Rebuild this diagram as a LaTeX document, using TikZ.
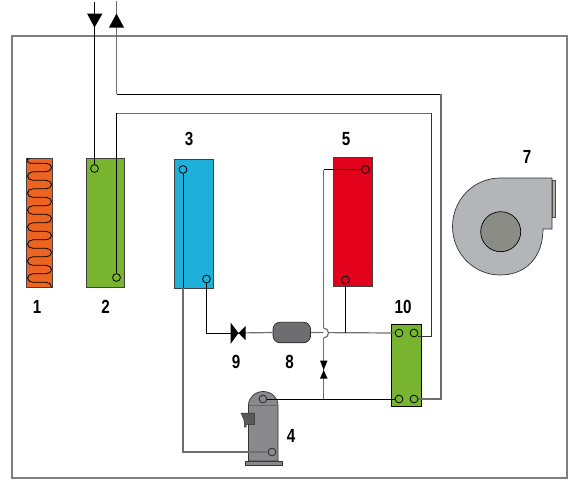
\documentclass[tikz,border=0pt]{standalone}
\usepackage{fontspec}
\setmainfont[FakeStretch=0.8]{Liberation Sans}
\definecolor{coilc}{HTML}{EC6420}
\definecolor{greenc}{HTML}{78B430}
\definecolor{bluec}{HTML}{1FB0DA}
\definecolor{redc}{HTML}{E2001A}
\definecolor{pipeg}{HTML}{6E6E6E}
\definecolor{frameg}{HTML}{7F7F7F}
\definecolor{fang}{HTML}{B4B5B8}
\definecolor{hubg}{HTML}{8C8C86}
\definecolor{compg}{HTML}{8A8A8D}
\definecolor{tankg}{HTML}{6E6E70}
\tikzset{
  x=1pt,y=-1pt,
  panel/.style={draw=black!75,line width=0.9pt,minimum width=#1,inner sep=0pt,outer sep=0pt,anchor=north west},
  port/.style={circle,draw=black,line width=0.8pt,minimum size=7.8pt,inner sep=0pt},
  black pipe/.style={draw=black,line width=0.9pt},
  gray pipe/.style={draw=pipeg,line width=1.2pt},
  num/.style={font=\bfseries\fontsize{19}{19}\selectfont,inner sep=0pt},
  tip/.style={fill=black,draw=none}
}
\begin{document}
\begin{tikzpicture}
\useasboundingbox (0,0) rectangle (572,479);
\draw[frameg,line width=1.2pt] (12,36) rectangle (567,478);

% panels
\node[panel=25.5pt,minimum height=129pt,fill=coilc] (coil) at (26.5,158) {};
\node[panel=38.5pt,minimum height=128.5pt,fill=greenc] (b2) at (86,158.5) {};
\node[panel=38.5pt,minimum height=128.5pt,fill=bluec] (b3) at (174.5,159.5) {};
\node[panel=38.5pt,minimum height=128.5pt,fill=redc] (b5) at (333.5,157.5) {};
\node[panel=30pt,minimum height=82.5pt,fill=greenc,draw=black] (b10) at (391.5,324) {};

% coil serpentine
\draw[black,line width=0.8pt,line join=round]
  (27,160.5) .. controls (27,162.5) and (29,163.3) .. (33,163.3)
  foreach \i in {1,...,7} {
    -- ++(13,0) arc[start angle=-90,end angle=90,x radius=5.5,y radius=4.25]
    -- ++(-13,0) arc[start angle=-90,end angle=-270,x radius=5.5,y radius=4.25]
  }
  -- ++(13,0) .. controls ++(3,0) and (51.5,284) .. (51.5,287);
\draw[black,line width=0.8pt] (27,160.5) .. controls (27,159.5) and (28,158.5) .. (30,158.5);

% ports
\node[port] (p2a) at (94.5,168.5) {};
\node[port] (p2b) at (116.5,277.5) {};
\node[port] (p3a) at (183,169.5) {};
\node[port] (p3b) at (206.5,279) {};
\node[port] (p5a) at (365.5,169.5) {};
\node[port] (p5b) at (345.5,280) {};
\node[port] (p10a) at (399,333) {};
\node[port] (p10b) at (414,333) {};
\node[port] (p10c) at (399,399) {};
\node[port] (p10d) at (414,399) {};

% free ends and bends
\coordinate (in) at (94.5,2);
\coordinate (out) at (116.5,1);
\coordinate (j8) at (345.5,333);
\coordinate (j4) at (323.5,399);
\coordinate (jumpTop) at (323.5,328);
\coordinate (jumpBot) at (323.5,338);

% compressor
\node[draw=black!80,fill=compg,minimum width=37pt,minimum height=4pt,inner sep=0pt,line width=.7pt] (base) at (263.5,463) {};
\draw[black!80,fill=compg,line width=.7pt] (248.5,461) -- (248.5,405) arc[start angle=-180,end angle=0,x radius=14.75,y radius=13.5] -- (278,461) -- cycle;
\draw[black!60,line width=.8pt] (248.5,405.5) -- (278,405.5);
\draw[black!80,fill=black!65,line width=.5pt] (241,413) -- (254.5,413) -- (254.5,424.5) -- (246,424.5) -- (246,427) -- (244.5,427) -- (244,420) -- cycle;
\node[port,draw=black!85] (c1) at (263,399) {};
\node[port,draw=black!85] (c2) at (272,452) {};

% fan
\draw[black!80,fill=fang,line width=.7pt] (552,178) -- (500,178)
  arc[start angle=-90,end angle=-270,x radius=47.5,y radius=48.5]
  .. controls (527,275) and (543,256) .. (543,229) -- (552,229) -- cycle;
\node[draw=black!70,fill=hubg!70!white,minimum width=3.5pt,minimum height=37pt,inner sep=0pt,outer sep=0pt,line width=.6pt,anchor=north west] (outlet) at (552,180) {};
\node[circle,draw=black,fill=hubg,minimum size=40pt,inner sep=0pt,line width=.7pt] (hub) at (500.7,231.7) {};

% tank and valves
\node[draw=black!85,fill=tankg,rounded corners=7pt,minimum width=37.5pt,minimum height=20.5pt,inner sep=0pt,line width=.7pt] (tank) at (291.8,332.5) {};
\coordinate (v9) at (238.5,333);
\coordinate (v6) at (323.5,370);

% pipes
\draw[black pipe] (in) -- (p2a.north);
\draw[gray pipe] (out) -- (116.5,94);
\draw[black pipe] (116.5,94) -- (441,94);
\draw[gray pipe] (441,94) -- (441,399) -- (p10d.east);
\draw[gray pipe,line width=1pt] (116.5,113) -- (431,113);
\draw[black pipe,draw=black!80] (431,113) -- (431,336) -- (417.5,336);
\draw[black pipe] (116.5,113) -- (p2b.north);
\draw[black pipe] (p3a.south) -- (183,288);
\draw[gray pipe] (183,288) -- (183,452) -- (c2.west);
\draw[black pipe] (p3b.south) -- (206.5,333) -- (v9);
\draw[gray pipe] (v9) -- (tank.west);
\draw[gray pipe] (tank.east) -- (p10a.west);
\draw[black pipe] (p5b.south) -- (j8);
\draw[black pipe] (p5a.west) -- (323.5,169.5);
\draw[gray pipe] (323.5,169.5) -- (jumpTop);
\draw[gray pipe,fill=white] (jumpTop) arc[start angle=-90,end angle=90,radius=5] ;
\draw[gray pipe] (jumpBot) -- (v6);
\draw[gray pipe] (v6) -- (j4);
\draw[black pipe] (c1.east) -- (p10c.west);

% valves
\fill[tip] (230.5,322.5) -- (238.5,333) -- (230.5,344) -- cycle;
\fill[tip] (245.5,326) -- (238.5,333) -- (245.5,340) -- cycle;
\fill[tip] (320,360.5) -- (327.5,360.5) -- (323.7,370) -- cycle;
\fill[tip] (320,378.5) -- (327.5,378.5) -- (323.7,370) -- cycle;

% flow arrows
\fill[tip] (87,13.5) -- (102.5,13.5) -- (94.5,27.5) -- cycle;
\fill[tip] (109,27.5) -- (124,27.5) -- (116.5,13.5) -- cycle;

% labels
\node[num] (n1) at (37,306.5) {1};
\node[num] (n2) at (105.5,306.5) {2};
\node[num] (n3) at (189,139) {3};
\node[num] (n5) at (346,139) {5};
\node[num] (n7) at (527,157) {7};
\node[num] (n10) at (403,306.5) {10};
\node[num] (n9) at (236,361.5) {9};
\node[num] (n8) at (289.5,361.5) {8};
\node[num] (n4) at (291,435.5) {4};
\end{tikzpicture}
\end{document}
